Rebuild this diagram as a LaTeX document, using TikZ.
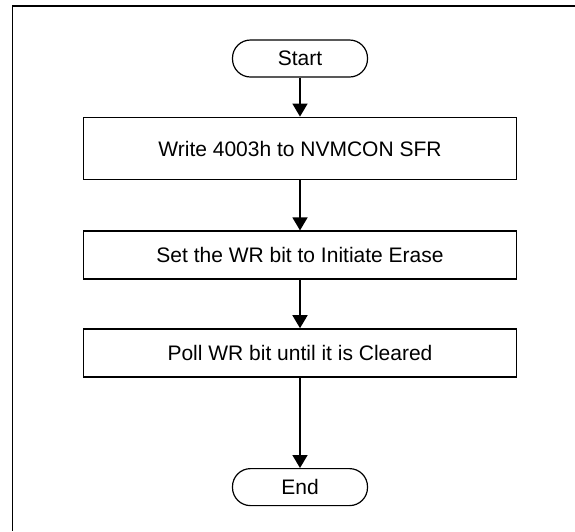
\documentclass[tikz,border=0pt]{standalone}
\usepackage{fontspec}
\setmainfont{Liberation Sans}
\usetikzlibrary{shapes, arrows.meta, positioning}

\begin{document}
\begin{tikzpicture}[x=1pt, y=1pt,
    procbox/.style={draw, line width=1.8pt, minimum width=433pt, inner sep=0pt},
    termbox/.style={draw, line width=1.2pt, rounded corners=18pt,
                    minimum width=135pt, minimum height=37pt, inner sep=0pt},
    flow/.style={-{Triangle[length=13pt, width=15pt]}, line width=1.6pt},
    font=\fontsize{21}{25}\selectfont]
  \useasboundingbox (0,0) rectangle (575,-531);
  % frame
  \draw[line width=1.8pt] (575,-6) -- (12.5,-6) -- (12.5,-531);

  \node[termbox] (start) at (300,-58.5) {Start};
  \node[procbox, minimum height=62pt, below=39pt of start] (write) {Write 4003h to NVMCON SFR};
  \node[procbox, minimum height=48pt, below=50pt of write] (setwr) {Set the WR bit to Initiate Erase};
  \node[procbox, minimum height=48pt, below=48pt of setwr] (poll) {Poll WR bit until it is Cleared};
  \node[termbox, below=90pt of poll] (stop) {End};

  \draw[flow] (start) -- (write);
  \draw[flow] (write) -- (setwr);
  \draw[flow] (setwr) -- (poll);
  \draw[flow] (poll) -- (stop);
\end{tikzpicture}
\end{document}
